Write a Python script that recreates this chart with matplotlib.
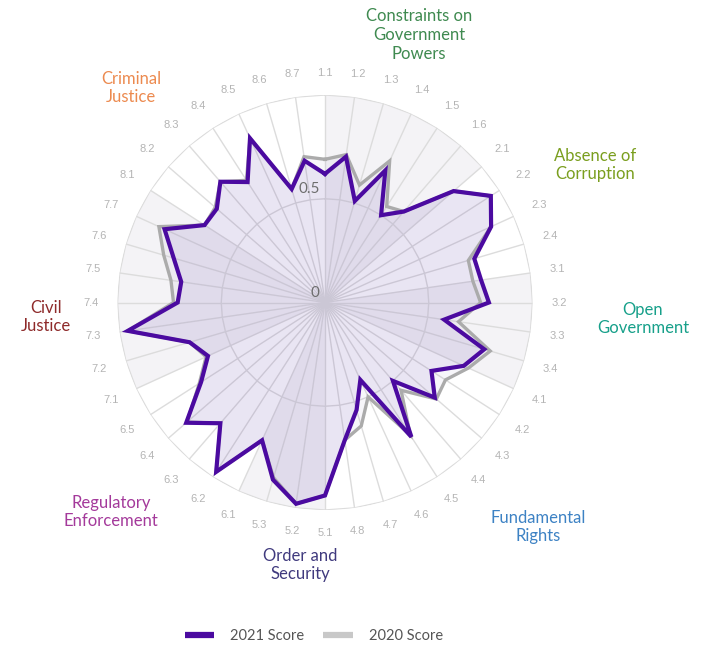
import numpy as np
import matplotlib
matplotlib.use('Agg')
import matplotlib.pyplot as plt
from matplotlib.lines import Line2D

indicators = ['1.1', '1.2', '1.3', '1.4', '1.5', '1.6',
              '2.1', '2.2', '2.3', '2.4',
              '3.1', '3.2', '3.3', '3.4',
              '4.1', '4.2', '4.3', '4.4', '4.5', '4.6', '4.7', '4.8',
              '5.1', '5.2', '5.3',
              '6.1', '6.2', '6.3', '6.4', '6.5',
              '7.1', '7.2', '7.3', '7.4', '7.5', '7.6', '7.7',
              '8.1', '8.2', '8.3', '8.4', '8.5', '8.6', '8.7']
pillar_names = ['Constraints on\nGovernment\nPowers', 'Absence of\nCorruption',
                'Open\nGovernment', 'Fundamental\nRights', 'Order and\nSecurity',
                'Regulatory\nEnforcement', 'Civil\nJustice', 'Criminal\nJustice']
pillar_sizes = [6, 4, 4, 8, 3, 5, 7, 7]
pillar_colors = ['#3f8a50', '#7a9e1e', '#17a08a', '#3d82c4', '#403a7e',
                 '#a43a9b', '#8e2a2a', '#ec8a4f']
scores_2021 = [0.62, 0.71, 0.51, 0.70, 0.50, 0.58,
               0.82, 0.95, 0.88, 0.75,
               0.76, 0.79, 0.58, 0.80,
               0.735, 0.61, 0.70, 0.50, 0.77, 0.41, 0.54, 0.67,
               0.93, 0.98, 0.89,
               0.73, 0.97, 0.77, 0.885, 0.71,
               0.62, 0.68, 0.96, 0.71, 0.70, 0.76, 0.85,
               0.69, 0.69, 0.77, 0.69, 0.87, 0.57, 0.69]
scores_2020 = [0.69, 0.72, 0.59, 0.75, 0.55, 0.58,
               0.82, 0.95, 0.88, 0.72,
               0.72, 0.75, 0.65, 0.83,
               0.76, 0.69, 0.71, 0.56, 0.76, 0.50, 0.62, 0.67,
               0.93, 0.98, 0.88,
               0.73, 0.97, 0.77, 0.88, 0.72,
               0.63, 0.68, 0.96, 0.73, 0.75, 0.81, 0.88,
               0.69, 0.70, 0.77, 0.70, 0.87, 0.57, 0.71]
ring_values = [0.5, 1.0]
tick_values = [0.0, 0.5]
tick_labels = ['0', '0.5']
series_labels = ['2021 Score', '2020 Score']

W, H = 705, 648
CX, CY, R = 325, 302.5, 207.5

plt.rcParams['font.family'] = ['Lato', 'DejaVu Sans']
fig = plt.figure(figsize=(W / 100, H / 100), dpi=100)
ax = fig.add_axes([(CX - R) / W, (H - CY - R) / H, 2 * R / W, 2 * R / H],
                  projection='polar')
ax.set_theta_zero_location('N')
ax.set_theta_direction(-1)
ax.set_ylim(0, 1)
ax.grid(False)
ax.set_xticks([])
ax.set_yticks([])
ax.spines['polar'].set_visible(False)
ax.patch.set_visible(False)

n = len(indicators)
theta = np.arange(n) * 2 * np.pi / n
theta_closed = np.append(theta, 2 * np.pi)

# alternating pillar sectors
start = 0
for k, size in enumerate(pillar_sizes):
    if k % 2 == 0:
        th = theta_closed[start:start + size + 1]
        ax.fill(np.concatenate([[0], th]), np.concatenate([[0], np.ones(len(th))]),
                color='#f4f3f6', lw=0, zorder=0)
    start += size

# grid
for t in theta:
    ax.plot([t, t], [0, 1], color='#dcdcdc', lw=1, zorder=1)
for rv in ring_values:
    ax.plot(theta_closed, [rv] * (n + 1), color='#dcdcdc', lw=1, zorder=1)

# data
v20 = np.append(scores_2020, scores_2020[0])
v21 = np.append(scores_2021, scores_2021[0])
ax.fill(theta_closed, v20, color=(0.45, 0.35, 0.65, 0.05), lw=0, zorder=2)
ax.fill(theta_closed, v21, color=(0.40, 0.25, 0.70, 0.09), lw=0, zorder=2)
ax.plot(theta_closed, v20, color='#ababab', lw=2.4, zorder=3, solid_joinstyle='miter')
ax.plot(theta_closed, v21, color='#4b0aa0', lw=3.0, zorder=4, solid_joinstyle='miter')

# radial tick labels
for tv, tl in zip(tick_values, tick_labels):
    ax.annotate(tl, xy=(0, tv), xytext=(-4, 2), textcoords='offset points',
                ha='right', va='bottom', fontsize=11, color='#6e6e6e', zorder=5)

# indicator labels
for t, lab in zip(theta, indicators):
    rc = (225 + 9 * abs(np.sin(t)) + 5 * abs(np.cos(t))) / R
    ax.text(t, rc, lab, ha='center', va='center', fontsize=8,
            color='#b4b4b4', family=['Liberation Sans', 'DejaVu Sans'], clip_on=False)

# pillar labels
pillar_pos = [(419, 35), (595, 165), (643, 319), (538, 527), (300, 565),
              (111, 512), (46, 317), (131, 88)]
for name, col, (px, py) in zip(pillar_names, pillar_colors, pillar_pos):
    fig.text(px / W, 1 - py / H, name, ha='center', va='center', fontsize=12,
             color=col, linespacing=1.22)

handles = [Line2D([], [], color='#4b0aa0', lw=4.5, solid_capstyle='butt'),
           Line2D([], [], color='#c8c8c8', lw=4.5, solid_capstyle='butt')]
fig.legend(handles, series_labels, loc='center', bbox_to_anchor=(314 / W, 1 - 636 / H),
           ncol=2, frameon=False, fontsize=10.5, handlelength=2.0, handletextpad=1.1,
           columnspacing=1.3, labelcolor='#555555')

fig.savefig('out.png', dpi=100)
